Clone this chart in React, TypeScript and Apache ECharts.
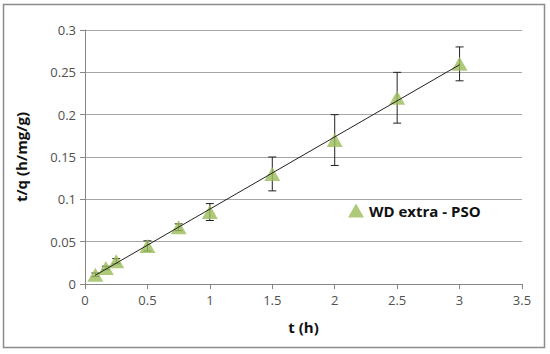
import React, { useEffect, useRef } from "react";
import * as echarts from "echarts";

const timeH = [0.083, 0.167, 0.25, 0.5, 0.75, 1, 1.5, 2, 2.5, 3];
const tOverQ = [0.011, 0.019, 0.027, 0.045, 0.067, 0.085, 0.13, 0.17, 0.22, 0.26];
const errAmp = [0.002, 0.002, 0.003, 0.006, 0.004, 0.01, 0.02, 0.03, 0.03, 0.02];
const seriesName = "WD extra - PSO";

function linearFit(xs: number[], ys: number[]) {
  const n = xs.length;
  const mx = xs.reduce((a, b) => a + b, 0) / n;
  const my = ys.reduce((a, b) => a + b, 0) / n;
  let sxy = 0, sxx = 0;
  for (let i = 0; i < n; i++) {
    sxy += (xs[i] - mx) * (ys[i] - my);
    sxx += (xs[i] - mx) * (xs[i] - mx);
  }
  const slope = sxy / sxx;
  return { slope, intercept: my - slope * mx };
}

export default function App() {
  const ref = useRef<HTMLDivElement>(null);
  useEffect(() => {
    if (!ref.current) return;
    const chart = echarts.init(ref.current, null, { renderer: "svg" });
    const fit = linearFit(timeH, tOverQ);
    const x0 = timeH[0];
    const x1 = timeH[timeH.length - 1];
    const trend = [
      [x0, fit.intercept + fit.slope * x0],
      [x1, fit.intercept + fit.slope * x1],
    ];
    const errData = timeH.map((t, i) => [t, tOverQ[i] - errAmp[i], tOverQ[i] + errAmp[i]]);
    const font = "'Open Sans', 'Liberation Sans', sans-serif";
    chart.setOption({
      animation: false,
      textStyle: { fontFamily: font },
      grid: { left: 85, right: 28, top: 30, bottom: 70 },
      graphic: [
        {
          type: "rect",
          shape: { x: 3.5, y: 4.5, width: 541, height: 343 },
          style: { fill: "none", stroke: "#8c8c8c", lineWidth: 1.5 },
          silent: true,
        },
      ],
      legend: {
        left: 343,
        top: 198,
        itemWidth: 16,
        itemHeight: 14,
        itemGap: 4,
        data: [{ name: seriesName, icon: "triangle" }],
        textStyle: { fontFamily: font, fontSize: 15, fontWeight: "bold", color: "#111" },
      },
      xAxis: {
        type: "value",
        min: 0,
        max: 3.5,
        interval: 0.5,
        name: "t (h)",
        nameLocation: "middle",
        nameGap: 35,
        nameTextStyle: { fontFamily: font, fontSize: 15, fontWeight: "bold", color: "#111" },
        axisLine: { show: true, lineStyle: { color: "#868686" } },
        axisTick: { show: true, length: 5, lineStyle: { color: "#868686" } },
        axisLabel: { fontSize: 13, color: "#505050", margin: 9 },
        splitLine: { show: false },
      },
      yAxis: {
        type: "value",
        min: 0,
        max: 0.3,
        interval: 0.05,
        name: "t/q (h/mg/g)",
        nameLocation: "middle",
        nameGap: 57,
        nameRotate: 90,
        nameTextStyle: { fontFamily: font, fontSize: 15, fontWeight: "bold", color: "#111" },
        axisLine: { show: true, lineStyle: { color: "#868686" } },
        axisTick: { show: true, length: 5, lineStyle: { color: "#868686" } },
        axisLabel: { fontSize: 13, color: "#505050", margin: 9 },
        splitLine: { show: true, lineStyle: { color: "#a6a6a6", width: 1 } },
      },
      series: [
        {
          type: "custom",
          name: "err",
          z: 3,
          data: errData,
          renderItem: (params: any, api: any) => {
            const x = api.value(0);
            const lo = api.coord([x, api.value(1)]);
            const hi = api.coord([x, api.value(2)]);
            const cap = 4;
            const st = { stroke: "#222", lineWidth: 1 };
            return {
              type: "group",
              children: [
                { type: "line", shape: { x1: lo[0], y1: lo[1], x2: hi[0], y2: hi[1] }, style: st },
                { type: "line", shape: { x1: lo[0] - cap, y1: lo[1], x2: lo[0] + cap, y2: lo[1] }, style: st },
                { type: "line", shape: { x1: hi[0] - cap, y1: hi[1], x2: hi[0] + cap, y2: hi[1] }, style: st },
              ],
            };
          },
        },
        {
          type: "scatter",
          name: seriesName,
          symbol: "triangle",
          symbolSize: [16, 14],
          z: 4,
          itemStyle: { color: "#9BBB59" },
          data: timeH.map((t, i) => [t, tOverQ[i]]),
        },
        {
          type: "line",
          name: "trend",
          z: 5,
          symbol: "none",
          data: trend,
          lineStyle: { color: "#222", width: 1 },
        },
      ],
    });
    return () => chart.dispose();
  }, []);
  return (
    <div
      ref={ref}
      style={{ position: "fixed", left: 0, top: 0, width: 550, height: 354, background: "#fff" }}
    />
  );
}
